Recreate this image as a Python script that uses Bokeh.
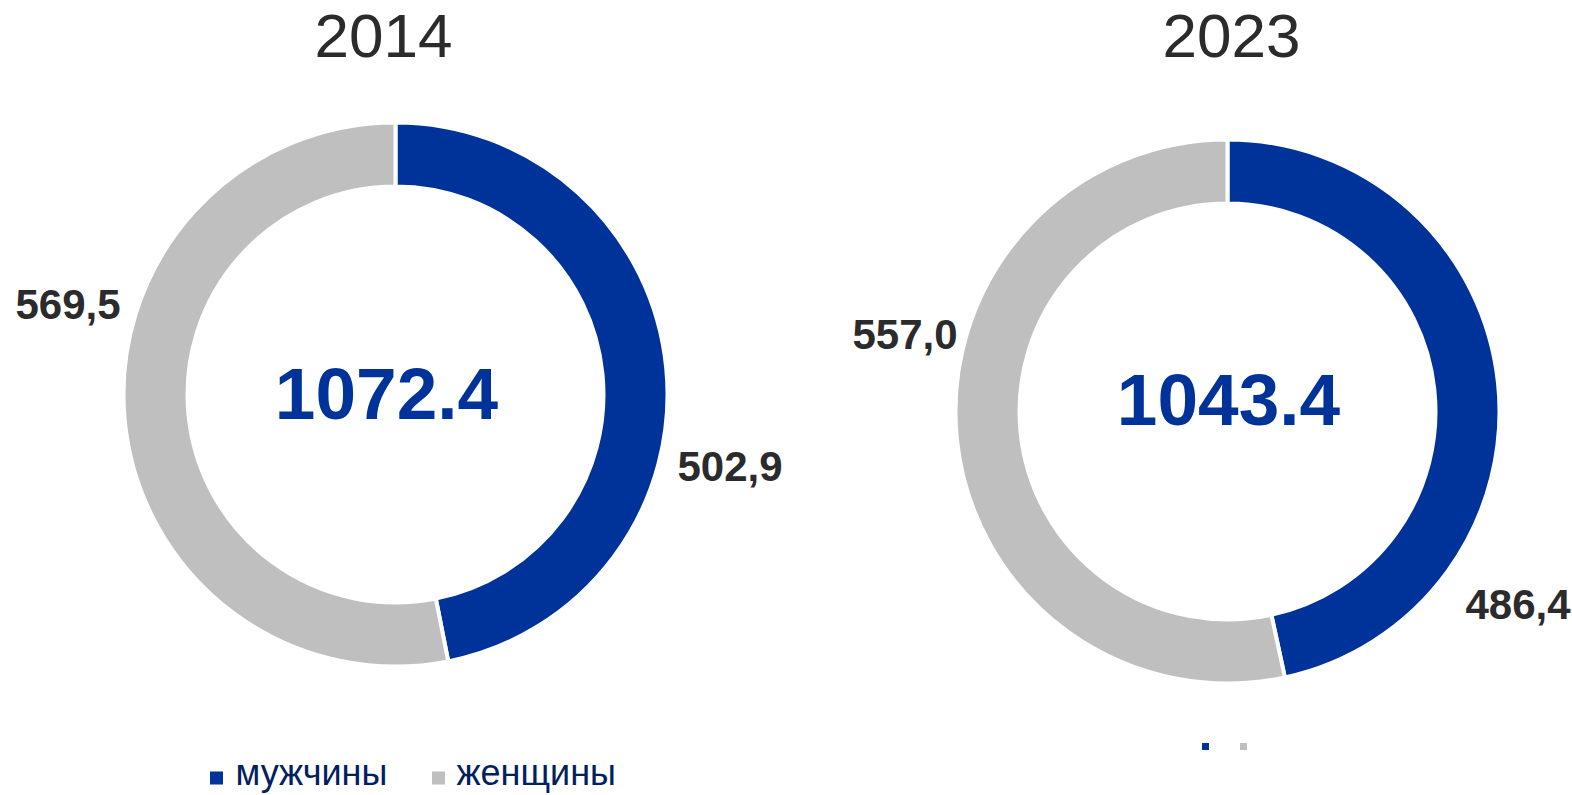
import math
from bokeh.plotting import figure
from bokeh.models import Range1d
from bokeh.core.properties import value
from bokeh.embed import file_html
from bokeh.resources import INLINE

# ---- data ----
years = ["2014", "2023"]
categories = ["мужчины", "женщины"]
men = [502.9, 486.4]
women = [569.5, 557.0]
totals = ["1072.4", "1043.4"]
labels_men = ["502,9", "486,4"]
labels_women = ["569,5", "557,0"]
colors = ["#003399", "#BFBFBF"]

# ---- layout (pixel-like coordinates; data y = H - screen y) ----
W, H = 1572, 795
p = figure(width=W, height=H, output_backend="svg", toolbar_location=None,
           x_range=Range1d(0, W), y_range=Range1d(0, H),
           min_border=0, outline_line_color=None)
p.axis.visible = False
p.grid.visible = False
p.background_fill_color = "white"
p.border_fill_color = "white"


def sy(y):
    return H - y


def base(y, size):
    # compensate Bokeh's baseline placement
    return sy(y - 0.38 * size)


centers = [(395, sy(394)), (1227, sy(411))]
r_in, r_out = 208, 272
title_pos = [(383, 59), (1231, 59)]
total_pos = [(386, 421), (1228, 427)]
men_lab_pos = [(677, 482), (1465, 620)]
women_lab_pos = [(15, 320), (852, 350)]

TS, CS, LS, GS = 62, 73, 42, 36

for i in range(2):
    cx, cy = centers[i]
    vals = [men[i], women[i]]
    tot = sum(vals)
    start = math.pi / 2
    for v, c in zip(vals, colors):
        end = start - 2 * math.pi * v / tot
        p.annular_wedge(x=cx, y=cy, inner_radius=r_in, outer_radius=r_out,
                        start_angle=start, end_angle=end, direction="clock",
                        fill_color=c, line_color="white", line_width=4)
        start = end

    tx, ty = title_pos[i]
    p.text(x=[tx], y=[base(ty, TS)], text=[years[i]], text_align="center",
           text_baseline="alphabetic", text_font=value("Liberation Sans"),
           text_font_size=f"{TS}px", text_color="#2b2b2b")

    cx2, cy2 = total_pos[i]
    p.text(x=[cx2], y=[base(cy2, CS)], text=[totals[i]], text_align="center",
           text_baseline="alphabetic", text_font=value("Liberation Sans"),
           text_font_style="bold", text_font_size=f"{CS}px", text_color="#003399")

    mx, my = men_lab_pos[i]
    p.text(x=[mx], y=[base(my, LS)], text=[labels_men[i]], text_align="left",
           text_baseline="alphabetic", text_font=value("Liberation Sans"),
           text_font_style="bold", text_font_size=f"{LS}px", text_color="#2b2b2b")
    wx, wy = women_lab_pos[i]
    p.text(x=[wx], y=[base(wy, LS)], text=[labels_women[i]], text_align="left",
           text_baseline="alphabetic", text_font=value("Liberation Sans"),
           text_font_style="bold", text_font_size=f"{LS}px", text_color="#2b2b2b")

# main legend (under left donut)
leg_sq = [(216, 777.5), (438, 777.5)]
leg_tx = [(235, 786), (456, 786)]
for (sx_, sy_), (lx, ly), c, name in zip(leg_sq, leg_tx, colors, categories):
    p.scatter(x=[sx_], y=[sy(sy_)], marker="square", size=13, fill_color=c, line_color=None)
    p.text(x=[lx], y=[base(ly, GS)], text=[name], text_align="left", text_baseline="alphabetic",
           text_font=value("Liberation Sans"), text_font_size=f"{GS}px", text_color="#002060")

# tiny legend markers under right donut (text not shown)
for sx_, c in zip([1205, 1243], colors):
    p.scatter(x=[sx_], y=[sy(746)], marker="square", size=7, fill_color=c, line_color=None)

open("out.html", "w").write(file_html(p, INLINE))
